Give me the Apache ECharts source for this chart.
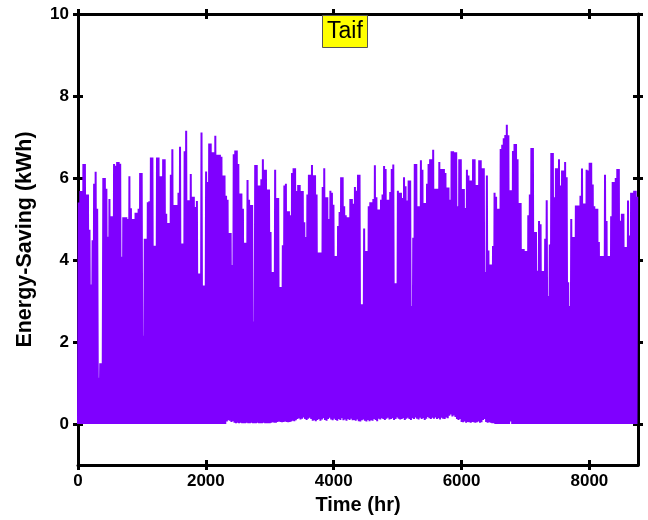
<!DOCTYPE html>
<html>
<head>
<meta charset="utf-8">
<script src="https://cdn.jsdelivr.net/npm/echarts@6/dist/echarts.min.js"></script>
<style>
  html, body { margin: 0; padding: 0; background: #ffffff; }
  #chart { width: 648px; height: 520px; }
</style>
</head>
<body>
<div id="chart"></div>
<script>
// Daily maximum hourly energy saving (kWh), one value per day of the year
const dailyPeak = [
  5.4, 5.68, 5.68, 6.34, 6.34, 5.6, 5.6, 4.74, 3.4, 4.48,
  5.86, 6.15, 5.25, 1.13, 1.48, 1.48, 6.0, 6.0, 5.74, 4.57,
  5.49, 5.07, 5.07, 6.34, 6.3, 6.39, 6.39, 6.35, 4.08, 5.04,
  5.04, 5.04, 5.0, 6.04, 5.26, 5.0, 5.0, 5.15, 5.15, 5.25,
  6.12, 6.12, 2.15, 4.52, 4.52, 5.41, 5.43, 6.5, 6.5, 4.35,
  4.35, 6.5, 6.5, 6.04, 6.04, 6.46, 6.46, 5.13, 4.9, 4.9,
  6.08, 6.7, 5.34, 5.34, 5.34, 5.64, 6.76, 4.4, 4.4, 6.65,
  7.15, 5.46, 5.46, 6.1, 5.54, 5.54, 5.29, 5.44, 3.67, 3.67,
  7.11, 3.38, 3.38, 6.16, 5.9, 6.84, 6.84, 6.63, 6.63, 7.03,
  6.57, 6.57, 6.57, 6.52, 6.06, 6.06, 5.57, 5.47, 4.66, 4.66,
  3.88, 6.58, 6.67, 6.67, 6.34, 5.62, 5.62, 5.25, 4.42, 4.42,
  5.95, 5.47, 5.34, 5.34, 2.5, 6.32, 6.32, 5.82, 5.82, 5.97,
  6.46, 6.2, 6.2, 5.72, 5.72, 4.68, 3.71, 3.71, 6.2, 5.51,
  5.51, 3.34, 3.34, 4.36, 5.82, 5.86, 5.19, 5.19, 5.09, 6.12,
  6.24, 6.24, 5.68, 5.83, 5.83, 5.68, 5.68, 4.92, 4.56, 5.6,
  6.08, 6.08, 6.32, 6.07, 6.07, 5.6, 4.18, 4.18, 4.18, 5.78,
  6.24, 5.53, 5.53, 5.0, 5.69, 5.64, 5.35, 4.1, 4.1, 4.83,
  5.17, 6.02, 6.02, 5.31, 5.09, 5.04, 5.04, 5.49, 5.49, 5.37,
  5.78, 5.69, 6.08, 6.08, 2.92, 2.92, 4.77, 4.22, 4.22, 5.31,
  5.41, 5.41, 5.49, 6.31, 5.53, 5.23, 5.23, 5.47, 5.6, 6.29,
  6.22, 5.47, 5.47, 5.66, 6.22, 6.33, 3.43, 3.43, 5.69, 5.64,
  5.64, 5.51, 6.02, 5.8, 5.45, 5.94, 5.94, 2.88, 4.54, 6.34,
  6.34, 5.31, 5.31, 6.43, 6.2, 5.39, 5.39, 5.86, 6.34, 6.46,
  6.46, 6.69, 5.74, 5.74, 5.74, 6.39, 6.22, 6.22, 6.22, 6.12,
  5.77, 5.77, 5.47, 6.65, 6.65, 6.63, 6.63, 5.31, 6.46, 6.46,
  5.73, 5.73, 5.27, 6.2, 6.06, 5.94, 5.94, 6.46, 6.46, 5.83,
  5.83, 6.43, 6.43, 6.24, 6.24, 3.71, 6.06, 4.23, 3.89, 3.89,
  4.34, 5.64, 5.54, 5.25, 5.25, 6.71, 6.81, 6.97, 7.05, 7.3,
  7.04, 5.7, 5.7, 6.66, 6.83, 6.83, 6.46, 5.39, 5.39, 4.27,
  4.27, 4.22, 4.22, 5.09, 5.6, 6.73, 6.73, 4.68, 4.68, 3.74,
  4.95, 4.87, 3.73, 3.73, 4.52, 5.46, 3.12, 4.38, 6.61, 6.61,
  5.53, 6.24, 6.24, 6.46, 5.82, 6.18, 6.18, 6.39, 6.02, 3.46,
  2.88, 5.0, 4.56, 4.56, 5.33, 5.33, 5.33, 5.57, 6.23, 5.38,
  5.38, 6.2, 6.18, 6.37, 6.37, 5.84, 5.31, 5.25, 5.25, 4.44,
  4.1, 4.1, 4.1, 6.08, 4.95, 4.1, 4.1, 5.07, 5.9, 5.9,
  6.0, 6.22, 6.22, 4.96, 5.13, 5.13, 4.32, 4.32, 5.45, 4.6,
  5.64, 5.64, 5.69, 5.69, 5.54
];

// Night-time minimum of each day (kWh)
const dailyTrough = [
  0, 0, 0, 0, 0, 0, 0, 0, 0, 0,
  0, 0, 0, 0, 0, 0, 0, 0, 0, 0,
  0, 0, 0, 0, 0, 0, 0, 0, 0, 0,
  0, 0, 0, 0, 0, 0, 0, 0, 0, 0,
  0, 0, 0, 0, 0, 0, 0, 0, 0, 0,
  0, 0, 0, 0, 0, 0, 0, 0, 0, 0,
  0, 0, 0, 0, 0, 0, 0, 0, 0, 0,
  0, 0, 0, 0, 0, 0, 0, 0, 0, 0,
  0, 0, 0, 0, 0, 0, 0, 0, 0, 0,
  0, 0, 0, 0, 0, 0, 0, 0.06, 0.09, 0.08,
  0.05, 0.07, 0.03, 0.02, 0.03, 0.02, 0.03, 0.02, 0.02, 0.02,
  0.03, 0.02, 0.02, 0.03, 0.02, 0.02, 0.02, 0.03, 0.02, 0.02,
  0.02, 0.03, 0.02, 0.02, 0.02, 0.02, 0.03, 0.04, 0.03, 0.03,
  0.05, 0.06, 0.05, 0.04, 0.05, 0.06, 0.05, 0.04, 0.05, 0.06,
  0.08, 0.07, 0.09, 0.12, 0.14, 0.11, 0.13, 0.16, 0.12, 0.1,
  0.13, 0.15, 0.12, 0.08, 0.09, 0.07, 0.1, 0.12, 0.08, 0.11,
  0.14, 0.1, 0.08, 0.12, 0.15, 0.11, 0.09, 0.13, 0.1, 0.08,
  0.12, 0.1, 0.14, 0.09, 0.11, 0.08, 0.12, 0.1, 0.13, 0.09,
  0.1, 0.08, 0.11, 0.07, 0.06, 0.09, 0.11, 0.08, 0.06, 0.1,
  0.07, 0.09, 0.08, 0.12, 0.1, 0.07, 0.13, 0.11, 0.14, 0.12,
  0.1, 0.13, 0.15, 0.11, 0.12, 0.14, 0.1, 0.12, 0.16, 0.13,
  0.11, 0.12, 0.14, 0.1, 0.13, 0.15, 0.12, 0.1, 0.14, 0.12,
  0.16, 0.13, 0.11, 0.15, 0.12, 0.14, 0.1, 0.13, 0.17, 0.14,
  0.12, 0.15, 0.13, 0.16, 0.12, 0.14, 0.11, 0.15, 0.13, 0.12,
  0.16, 0.14, 0.2, 0.23, 0.18, 0.21, 0.17, 0.12, 0.1, 0.12,
  0.05, 0.04, 0.06, 0.03, 0.05, 0.04, 0.03, 0.05, 0.04, 0.03,
  0.04, 0.06, 0.03, 0.04, 0.1, 0.12, 0.05, 0.03, 0.04, 0.03,
  0.02, 0.02, 0, 0, 0, 0, 0, 0, 0, 0,
  0, 0, 0.06, 0, 0, 0, 0, 0, 0, 0,
  0, 0, 0, 0, 0, 0, 0, 0, 0, 0,
  0, 0, 0, 0, 0, 0, 0, 0, 0, 0,
  0, 0, 0, 0, 0, 0, 0, 0, 0, 0,
  0, 0, 0, 0, 0, 0, 0, 0, 0, 0,
  0, 0, 0, 0, 0, 0, 0, 0, 0, 0,
  0, 0, 0, 0, 0, 0, 0, 0, 0, 0,
  0, 0, 0, 0, 0, 0, 0, 0, 0, 0,
  0, 0, 0, 0, 0
];

const xMajorTicks = [0, 2000, 4000, 6000, 8000];
const xMinorTicks = [1000, 3000, 5000, 7000];
const yMajorTicks = [0, 2, 4, 6, 8, 10];

const FONT = '"Liberation Sans", Arial, sans-serif';
const INK = '#000000';
const HOURS = 8760;

// Hour-by-hour trace: each day falls to its night minimum and climbs to its midday peak
const trace = [];
dailyPeak.forEach((peak, day) => {
  trace.push([day * 24, dailyTrough[day]]);
  trace.push([day * 24 + 12, peak]);
});

// Axis builder; frame lines and ticks that cross the frame are made of stacked axes
function axis(dim, opts) {
  const base = {
    type: 'value',
    position: opts.position,
    min: dim === 'x' ? 0 : -1,
    max: dim === 'x' ? HOURS : 10,
    splitLine: { show: false },
    axisLine: { show: !!opts.line, onZero: false, lineStyle: { color: INK, width: 3 } },
    axisTick: {
      show: true,
      inside: !!opts.inside,
      length: opts.tickLen || 5,
      customValues: opts.ticks,
      lineStyle: { color: INK, width: 3 }
    },
    axisLabel: { show: false },
    z: 1
  };
  if (opts.labels) {
    base.axisLabel = {
      show: true,
      customValues: opts.ticks,
      formatter: (v) => String(v),
      margin: opts.margin,
      color: INK,
      fontFamily: FONT,
      fontWeight: 'bold',
      fontSize: 17
    };
  }
  if (opts.name) {
    base.name = opts.name;
    base.nameLocation = 'middle';
    base.nameGap = opts.nameGap;
    if (dim === 'y') base.nameRotate = 90;
    base.nameTextStyle = { color: INK, fontFamily: FONT, fontWeight: 'bold', fontSize: opts.nameSize };
  }
  return base;
}

const chart = echarts.init(document.getElementById('chart'), null, { renderer: 'canvas' });

chart.setOption({
  animation: false,
  backgroundColor: '#ffffff',
  title: {
    text: 'Taif',
    left: 322,
    top: 15,
    padding: [5, 5, 5, 5],
    backgroundColor: '#ffff00',
    borderColor: '#555555',
    borderWidth: 1,
    textStyle: { color: INK, fontFamily: FONT, fontWeight: 'normal', fontSize: 23 },
    z: 10
  },
  grid: { left: 78, right: 10, top: 14, bottom: 54, containLabel: false },
  xAxis: [
    axis('x', { position: 'bottom', line: true, ticks: xMajorTicks, labels: true, margin: 8, name: 'Time (hr)', nameGap: 30, nameSize: 20 }),
    axis('x', { position: 'bottom', inside: true, ticks: xMajorTicks }),
    axis('x', { position: 'bottom', ticks: xMinorTicks, tickLen: 2 }),
    axis('x', { position: 'top', line: true, ticks: xMajorTicks }),
    axis('x', { position: 'top', inside: true, ticks: xMajorTicks })
  ],
  yAxis: [
    axis('y', { position: 'left', line: true, ticks: yMajorTicks, labels: true, margin: 9, name: 'Energy-Saving (kWh)', nameGap: 42, nameSize: 21.5 }),
    axis('y', { position: 'left', inside: true, ticks: yMajorTicks }),
    axis('y', { position: 'right', line: true, ticks: yMajorTicks }),
    axis('y', { position: 'right', inside: true, ticks: yMajorTicks })
  ],
  series: [{
    type: 'line',
    xAxisIndex: 0,
    yAxisIndex: 0,
    data: trace,
    showSymbol: false,
    symbol: 'none',
    sampling: null,
    lineStyle: { color: '#7f00ff', width: 2 },
    z: 2
  }]
});
</script>
</body>
</html>
